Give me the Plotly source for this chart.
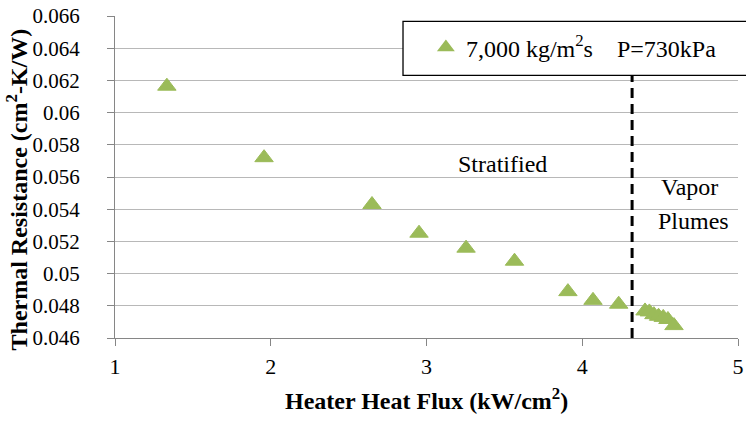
import plotly.graph_objects as go

# Heater heat flux (kW/cm^2) and measured thermal resistance (cm^2-K/W)
heat_flux = [1.333, 1.957, 2.650, 2.952, 3.254, 3.565, 3.908, 4.069, 4.234,
             4.403, 4.431, 4.460, 4.490, 4.520, 4.550, 4.589]
thermal_resistance = [0.06164, 0.05720, 0.05429, 0.05251, 0.05158, 0.05077,
                      0.04888, 0.04834, 0.04810, 0.04768, 0.04762, 0.04745,
                      0.04735, 0.04728, 0.04715, 0.04677]

series_name = "7,000 kg/m<sup>2</sup>s\u00a0\u00a0\u00a0\u00a0P=730kPa"

x_ticks = [1, 2, 3, 4, 5]
y_ticks = [0.046, 0.048, 0.05, 0.052, 0.054, 0.056, 0.058, 0.06, 0.062, 0.064, 0.066]
y_tick_text = ["0.046", "0.048", "0.05", "0.052", "0.054", "0.056", "0.058",
               "0.06", "0.062", "0.064", "0.066"]

regime_boundary = 4.32  # transition from stratified flow to vapor plumes

FONT = "Liberation Serif, Times New Roman, serif"
GRID = "#b8b8b8"
AXIS = "#868686"
GREEN = "#9bbb59"

fig = go.Figure()
fig.add_trace(go.Scatter(
    x=heat_flux, y=thermal_resistance, mode="markers", name=series_name,
    marker=dict(symbol="triangle-up", size=16, color=GREEN,
                line=dict(color=GREEN, width=1)),
))

fig.update_layout(
    width=746, height=421,
    margin=dict(l=115, r=8, t=16, b=83),
    paper_bgcolor="white", plot_bgcolor="white",
    font=dict(family=FONT, size=21, color="black"),
    showlegend=True,
    legend=dict(x=0.499, y=0.902, xanchor="left", yanchor="middle",
                bgcolor="rgba(0,0,0,0)", borderwidth=0,
                font=dict(family=FONT, size=24, color="black"),
                itemsizing="constant"),
    xaxis=dict(range=[1, 5], tickvals=x_ticks, showgrid=False, zeroline=False,
               automargin=False,
               showline=True, linecolor=AXIS, linewidth=1,
               ticks="outside", ticklen=7, tickcolor=AXIS, ticklabelstandoff=2,
               tickfont=dict(family=FONT, size=22, color="black")),
    yaxis=dict(range=[0.046, 0.066], tickvals=y_ticks, ticktext=y_tick_text,
               automargin=False,
               showgrid=True, gridcolor=GRID, gridwidth=1, zeroline=False,
               showline=True, linecolor=AXIS, linewidth=1,
               ticks="outside", ticklen=7, tickcolor=AXIS, ticklabelstandoff=23,
               tickfont=dict(family=FONT, size=21, color="black")),
    shapes=[
        # legend frame, running past the right edge
        dict(type="rect", xref="paper", yref="paper",
             x0=0.4623, x1=1.03, y0=0.8155, y1=0.9832,
             line=dict(color="black", width=1.3), fillcolor="white", layer="above"),
        # regime boundary
        dict(type="line", xref="x", yref="paper",
             x0=regime_boundary, x1=regime_boundary, y0=0, y1=0.8155,
             line=dict(color="black", width=3, dash="10px,6px")),
    ],
    annotations=[
        dict(text="<b>Heater Heat Flux (kW/cm<sup>2</sup>)</b>", xref="paper", yref="paper",
             x=0.5, y=-0.19, xanchor="center", yanchor="middle", showarrow=False,
             font=dict(family=FONT, size=24, color="black")),
        dict(text="<b>Thermal Resistance (cm<sup>2</sup>-K/W)</b>", xref="paper",
             yref="paper", x=-0.158, y=0.46, xanchor="center", yanchor="middle",
             textangle=-90, showarrow=False,
             font=dict(family=FONT, size=24, color="black")),
        dict(text="Stratified", xref="x", yref="y", x=3.49, y=0.05678,
             showarrow=False, font=dict(family=FONT, size=24, color="black")),
        dict(text="Vapor", xref="x", yref="y", x=4.69, y=0.05535,
             showarrow=False, font=dict(family=FONT, size=24, color="black")),
        dict(text="Plumes", xref="x", yref="y", x=4.715, y=0.05324,
             showarrow=False, font=dict(family=FONT, size=24, color="black")),
    ],
)

fig.write_html("out.html")
